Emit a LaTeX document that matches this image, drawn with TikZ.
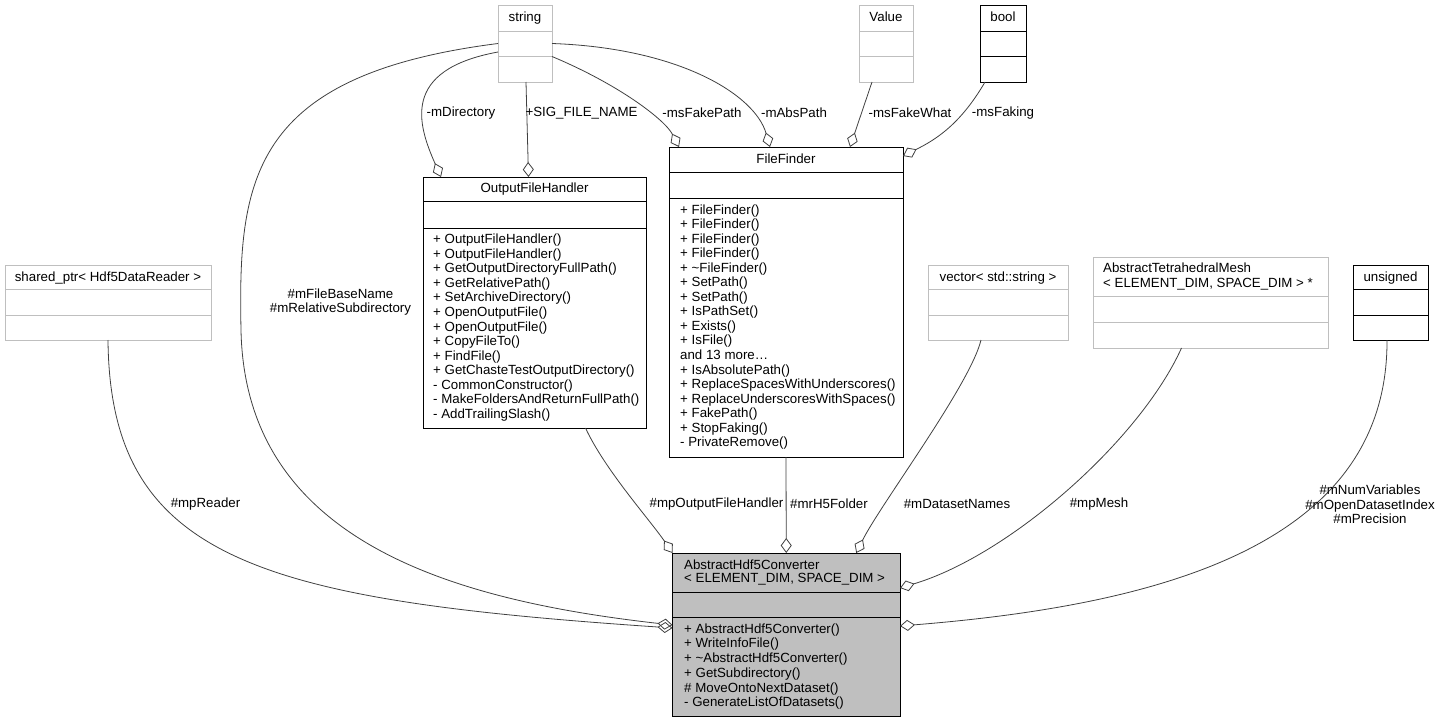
\documentclass[tikz,border=0pt]{standalone}
\usepackage{fontspec}
\setmainfont{Liberation Sans}
\usetikzlibrary{arrows.meta,calc}
\definecolor{edge}{HTML}{404040}
\definecolor{ghost}{HTML}{BFBFBF}
\definecolor{focus}{HTML}{BFBFBF}
\begin{document}
\begin{tikzpicture}[x=1pt,y=-1pt,font=\fontsize{13.3}{14.5}\selectfont,
  cls/.style={draw=black,line width=0.9pt,inner sep=0pt,outer sep=0pt},
  ext/.style={draw=ghost,line width=0.9pt,inner sep=0pt,outer sep=0pt},
  head/.style={inner sep=0pt,text height=10pt,text depth=2pt},
  mem/.style={anchor=west,inner sep=0pt,text height=10pt,text depth=2pt},
  lbl/.style={align=center,inner sep=0pt},
  agg/.style={draw=edge,line width=0.8pt,{Diamond[open,length=15pt,width=11pt]}-}]
\useasboundingbox (0,0) rectangle (1440,723);
\node[ext,minimum width=54,minimum height=77] (str) at (525,43.5){};
\node[ext,minimum width=54,minimum height=77] (val) at (886,43.5){};
\node[cls,minimum width=46,minimum height=77] (bool) at (1003,43.5){};
\node[cls,minimum width=223,minimum height=251] (ofh) at (534.5,302.5){};
\node[cls,minimum width=234,minimum height=310] (ff) at (786,302){};
\node[cls,fill=focus,minimum width=227.5,minimum height=163] (main) at (786.25,634.5){};
\node[ext,minimum width=206,minimum height=75] (reader) at (108,302.5){};
\node[ext,minimum width=140,minimum height=75] (vec) at (998,302.5){};
\node[ext,minimum width=235,minimum height=91] (mesh) at (1210.5,302.5){};
\node[cls,minimum width=75,minimum height=75] (uns) at (1390.5,302.5){};
\foreach \n/\a/\b/\c in {str/26.7/51.7/ghost,val/26.7/51.7/ghost,bool/26.7/51.7/black,
  ofh/24.3/51.3/black,ff/25.5/51/black,main/39.3/64.7/black,reader/24.7/50/ghost,
  vec/24.7/50/ghost,mesh/39.7/65.3/ghost,uns/24.7/50/black}{
  \draw[\c,line width=0.9pt] ([yshift=-\a]\n.north west) -- ([yshift=-\a]\n.north east);
  \draw[\c,line width=0.9pt] ([yshift=-\b]\n.north west) -- ([yshift=-\b]\n.north east);
}
\node[head] (str-t) at (525,17.5){string};
\node[head] (val-t) at (886,17.5){Value};
\node[head] (bool-t) at (1003,17.5){bool};
\node[head] (ofh-t) at (534.5,188.5){OutputFileHandler};
\node[head] (ff-t) at (786,159.5){FileFinder};
\node[head] (reader-t) at (108,277){shared\_ptr< Hdf5DataReader >};
\node[head] (vec-t) at (998,277){vector< std::string >};
\node[head] (uns-t) at (1390.5,277){unsigned};
\node[mem] (mesh-t1) at (1103,268.3){AbstractTetrahedralMesh};
\node[mem] (mesh-t2) at (1103,283.3){< ELEMENT\_DIM, SPACE\_DIM > *};
\node[mem] (main-t1) at (684,565){AbstractHdf5Converter};
\node[mem] (main-t2) at (684,578.5){< ELEMENT\_DIM, SPACE\_DIM >};
\foreach \m [count=\i from 0] in {+ OutputFileHandler(),+ OutputFileHandler(),
  + GetOutputDirectoryFullPath(),+ GetRelativePath(),+ SetArchiveDirectory(),
  + OpenOutputFile(),+ OpenOutputFile(),+ CopyFileTo(),+ FindFile(),
  + GetChasteTestOutputDirectory(),- CommonConstructor(),
  - MakeFoldersAndReturnFullPath(),- AddTrailingSlash()}
  \node[mem] (ofh-\i) at (433,{239.7+14.55*\i}){\m};
\foreach \m [count=\i from 0] in {+ FileFinder(),+ FileFinder(),+ FileFinder(),
  + FileFinder(),+ \textasciitilde FileFinder(),+ SetPath(),+ SetPath(),+ IsPathSet(),
  + Exists(),+ IsFile(),and 13 more\ldots,+ IsAbsolutePath(),
  + ReplaceSpacesWithUnderscores(),+ ReplaceUnderscoresWithSpaces(),+ FakePath(),
  + StopFaking(),- PrivateRemove()}
  \node[mem] (ff-\i) at (680,{210+14.55*\i}){\m};
\foreach \m [count=\i from 0] in {+ AbstractHdf5Converter(),+ WriteInfoFile(),
  + \textasciitilde AbstractHdf5Converter(),+ GetSubdirectory(),
  \# MoveOntoNextDataset(),- GenerateListOfDatasets()}
  \node[mem] (main-\i) at (684,{629.3+14.68*\i}){\m};
\draw[agg] ([xshift=18]ofh.north west) .. controls (418,125) and (400,70) .. ([yshift=-8.5]str.west);
\draw[agg] ([xshift=105.5]ofh.north west) -- ([xshift=1]str.south);
\draw[agg] ([xshift=10]ff.north west) .. controls (665,120) and (620,85) .. ([yshift=-13]str.east);
\draw[agg] ([xshift=101]ff.north west) .. controls (755,95) and (680,48) .. (str.east);
\draw[agg] ([xshift=181]ff.north west) -- ([xshift=-14]val.south);
\draw[agg] ([yshift=-9]ff.north east) .. controls (935,140) and (960,125) .. ([xshift=5]bool.south west);
\draw[agg] ([yshift=9.5]main.west) .. controls (450,600) and (245,540) .. (241,330)
  .. controls (238,180) and (250,75) .. (str.west);
\draw[agg] ([yshift=6.5]main.west) .. controls (260,600) and (110,560) .. (reader.south);
\draw[agg] (main.north west) .. controls (650,520) and (605,470) .. ([xshift=51]ofh.south);
\draw[agg] (main.north) -- (ff.south);
\draw[agg] ([xshift=70]main.north) .. controls (880,505) and (970,385) .. ([xshift=-17]vec.south);
\draw[agg] ([yshift=46.5]main.east) .. controls (1010,555) and (1140,440) .. ([xshift=-29]mesh.south);
\draw[agg] ([yshift=8.5]main.east) .. controls (1160,605) and (1388,545) .. ([xshift=-3.5]uns.south);
\node[lbl] (l-dir) at (461,113){-mDirectory};
\node[lbl] (l-sig) at (581.5,113){+SIG\_FILE\_NAME};
\node[lbl] (l-fake) at (702,113){-msFakePath};
\node[lbl] (l-abs) at (794,113){-mAbsPath};
\node[lbl] (l-what) at (910,113){-msFakeWhat};
\node[lbl] (l-faking) at (1003,113){-msFaking};
\node[lbl] (l-base) at (340.5,302){\#mFileBaseName\\\#mRelativeSubdirectory};
\node[lbl] (l-reader) at (205.5,504){\#mpReader};
\node[lbl] (l-ofh) at (716.5,504){\#mpOutputFileHandler};
\node[lbl] (l-h5) at (829,504){\#mrH5Folder};
\node[lbl] (l-names) at (957,504){\#mDatasetNames};
\node[lbl] (l-mesh) at (1099,504){\#mpMesh};
\node[lbl] (l-num) at (1370,504.7){\#mNumVariables\\\#mOpenDatasetIndex\\\#mPrecision};
\end{tikzpicture}
\end{document}
